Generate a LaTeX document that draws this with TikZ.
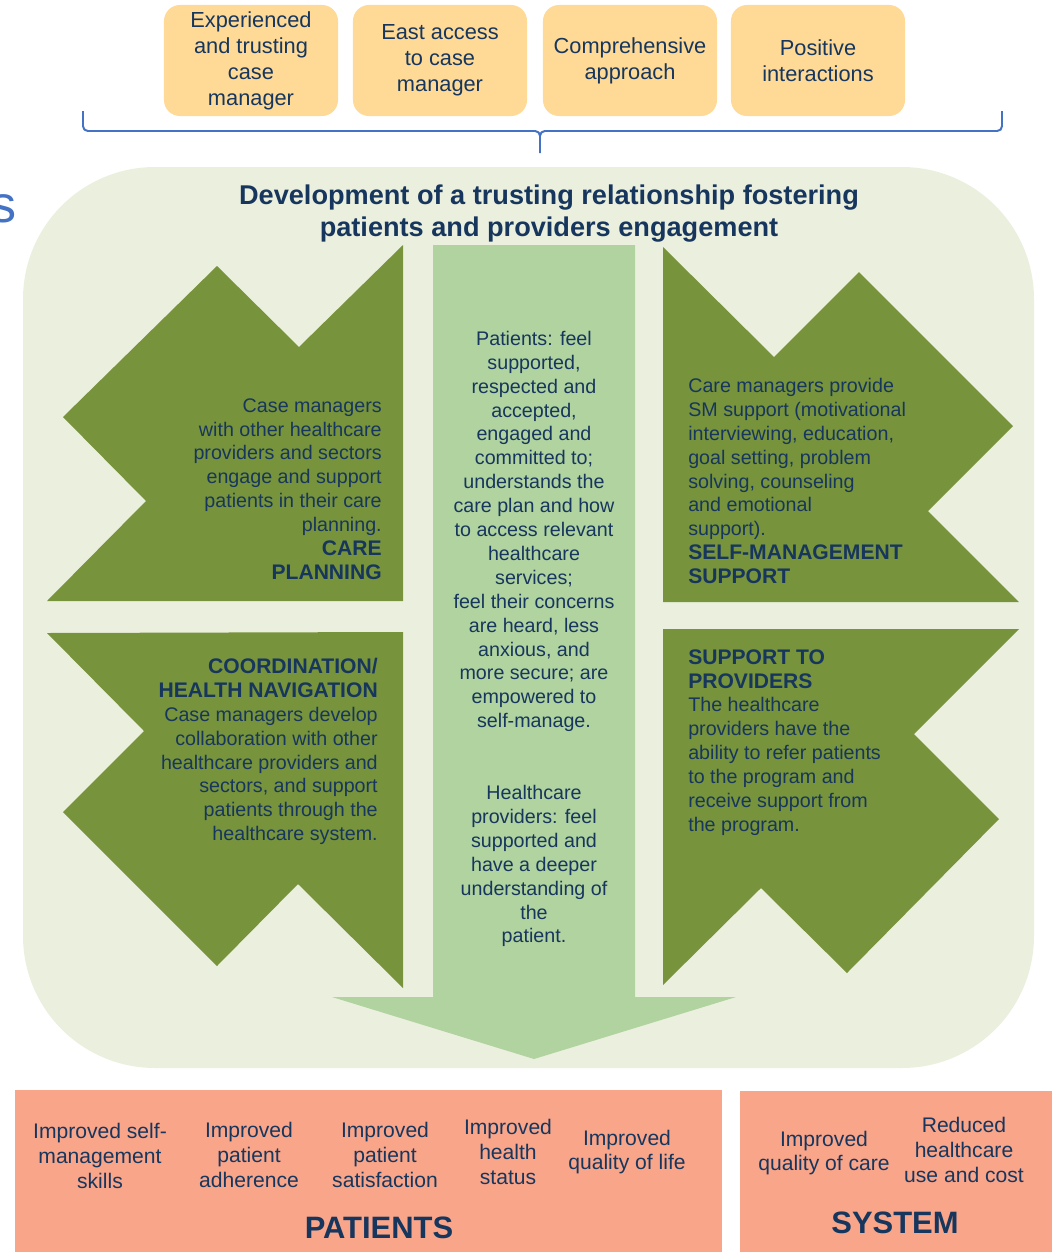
\documentclass[tikz,border=0pt]{standalone}
\usepackage{fontspec}
\setmainfont{Liberation Sans}
\definecolor{factorfill}{RGB}{254,218,150}
\definecolor{bracketblue}{RGB}{68,114,196}
\definecolor{panelfill}{RGB}{235,240,222}
\definecolor{careolive}{RGB}{119,147,60}
\definecolor{flowgreen}{RGB}{176,211,160}
\definecolor{navy}{RGB}{23,54,93}
\definecolor{salmon}{RGB}{248,165,138}
\newcommand{\qhead}[1]{{\bfseries\fontsize{15}{17}\selectfont #1}}
\tikzset{
  factor/.style={fill=factorfill, rounded corners=0.4cm, minimum width=4.35cm,
    minimum height=2.775cm, inner sep=0pt, align=center, text=navy,
    font=\fontsize{15.5}{18.5}\selectfont},
  quadrant/.style={fill=careolive},
  body/.style={inner sep=0pt, text=navy, font=\fontsize{14}{17}\selectfont},
  outcome/.style={inner sep=0pt, align=center, text=navy,
    font=\fontsize{15}{17.5}\selectfont},
  heading/.style={inner sep=0pt, align=center, text=navy,
    font=\bfseries\fontsize{22}{26}\selectfont}
}
\begin{document}
\begin{tikzpicture}[x=0.025cm,y=-0.025cm]
  \useasboundingbox (0,0) rectangle (1056,1252);
  % factors on top
  \node[factor] (exp) at (251,60.5) {Experienced\\and trusting\\case\\manager};
  \node[factor] (acc) at (440,60.5) {East access\\to case\\manager};
  \node[factor] (comp) at (630,60.5) {Comprehensive\\approach};
  \node[factor] (pos) at (818,60.5) {Positive\\interactions};
  \draw[bracketblue, line width=1.4pt, rounded corners=0.12cm]
    (83,111) -- (83,131) -- (540,131) -- (540,153)
    (540,153) -- (540,131) -- (1002,131) -- (1002,111);
  \node[text=bracketblue, font=\fontsize{37}{40}\selectfont, anchor=base east, inner sep=0pt]
    (cut) at (17,222) {s};
  % panel
  \fill[panelfill, rounded corners=3.3cm] (23,167) rectangle (1034,1068);
  \node[inner sep=0pt, align=center, text=navy, font=\bfseries\fontsize{19.3}{22.8}\selectfont]
    (title) at (549,214) {Development of a trusting relationship fostering\\patients and providers engagement};
  % central arrow
  \fill[flowgreen] (433,245) -- (635,245) -- (635,997) -- (736,997) -- (534,1059)
    -- (332,997) -- (433,997) -- cycle;
  % four quadrants
  \fill[quadrant] (403,245) -- (299,347) -- (217,266) -- (63,417) -- (146,501)
    -- (47,601) -- (403,601) -- cycle;
  \fill[quadrant] (663,247) -- (774,357) -- (859,272) -- (1013,426) -- (928,511)
    -- (1019,602) -- (663,602) -- cycle;
  \fill[quadrant] (47,633) -- (403,632) -- (403,988) -- (298,884) -- (217,966)
    -- (63,812) -- (144,731) -- cycle;
  \fill[quadrant] (663,629) -- (1019,629) -- (914,734) -- (999,819) -- (847,973)
    -- (761,888) -- (663,985) -- cycle;
  \node[body, align=right, anchor=east] (plan) at (382,489) {Case managers\\with other healthcare\\providers and sectors\\engage and support\\patients in their care\\planning.\\\qhead{CARE}\\\qhead{PLANNING}};
  \node[body, align=left, anchor=west] (selfman) at (688,481) {Care managers provide\\SM support (motivational\\interviewing, education,\\goal setting, problem\\solving, counseling\\and emotional\\support).\\\qhead{SELF-MANAGEMENT}\\\qhead{SUPPORT}};
  \node[body, align=right, anchor=east] (coord) at (378,751.5) {\qhead{COORDINATION/}\\\qhead{HEALTH NAVIGATION}\\Case managers develop\\collaboration with other\\healthcare providers and\\sectors, and support\\patients through the\\healthcare system.};
  \node[body, align=left, anchor=west] (provs) at (688,742.5) {\qhead{SUPPORT TO}\\\qhead{PROVIDERS}\\The healthcare\\providers have the\\ability to refer patients\\to the program and\\receive support from\\the program.};
  \node[body, align=center] (gain) at (534,639) {Patients: feel\\supported,\\respected and\\accepted,\\engaged and\\committed to;\\understands the\\care plan and how\\to access relevant\\healthcare\\services;\\feel their concerns\\are heard, less\\anxious, and\\more secure; are\\empowered to\\self-manage.\\[34pt]Healthcare\\providers: feel\\supported and\\have a deeper\\understanding of\\the\\patient.};
  % outcomes
  \fill[salmon] (15,1090) rectangle (722,1252);
  \fill[salmon] (740,1091) rectangle (1052,1252);
  \node[outcome] (skills) at (100,1156) {Improved self-\\management\\skills};
  \node[outcome] (adher) at (249,1155) {Improved\\patient\\adherence};
  \node[outcome] (satis) at (385,1155) {Improved\\patient\\satisfaction};
  \node[outcome] (status) at (508,1152) {Improved\\health\\status};
  \node[outcome] (qol) at (627,1152) {Improved\\quality of life};
  \node[heading] (patients) at (379,1228) {PATIENTS};
  \node[outcome] (qoc) at (824,1153) {Improved\\quality of care};
  \node[outcome] (cost) at (964,1150) {Reduced\\healthcare\\use and cost};
  \node[heading] (system) at (895,1223) {SYSTEM};
\end{tikzpicture}
\end{document}
